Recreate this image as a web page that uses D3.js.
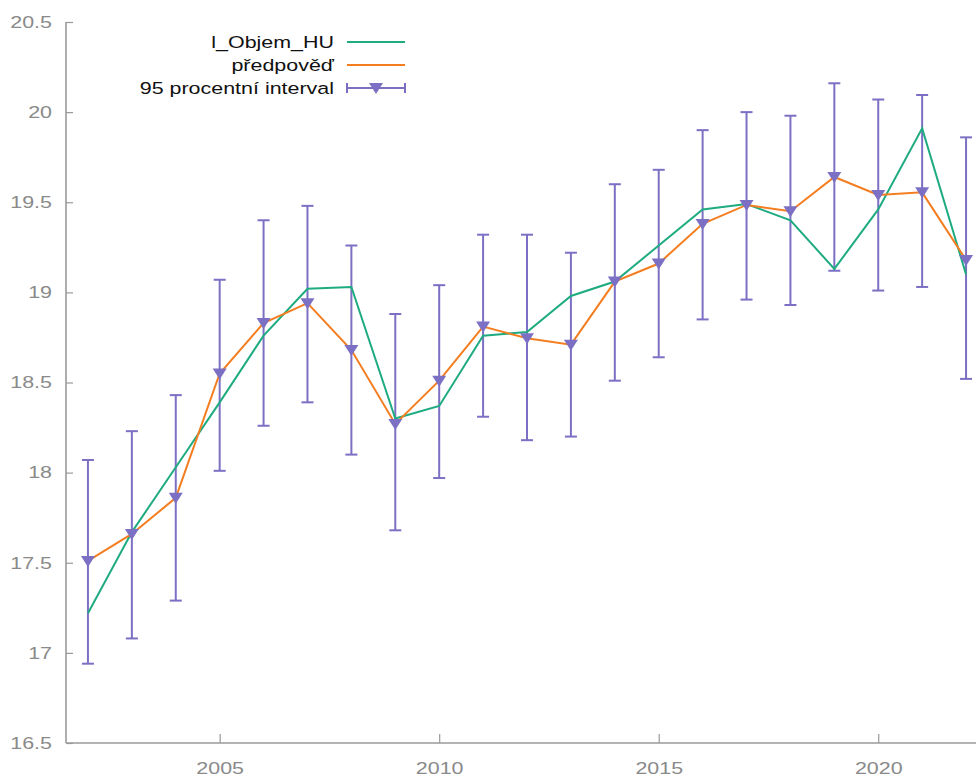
<!DOCTYPE html>
<html>
<head>
<meta charset="utf-8">
<script src="https://cdn.jsdelivr.net/npm/d3@7"></script>
<style>
  body { margin: 0; background: #fff; }
  svg { display: block; font-family: "Liberation Sans", Arial, sans-serif; }
</style>
</head>
<body>
<script>
// data
var years    = [2002, 2003, 2004, 2005, 2006, 2007, 2008, 2009, 2010, 2011, 2012,
                2013, 2014, 2015, 2016, 2017, 2018, 2019, 2020, 2021, 2022];
var actual   = [17.22, 17.67, 18.03, 18.39, 18.76, 19.02, 19.03, 18.30, 18.37, 18.76, 18.78,
                18.98, 19.06, 19.26, 19.46, 19.49, 19.40, 19.13, 19.46, 19.91, 19.10];
var forecast = [17.51, 17.66, 17.86, 18.55, 18.83, 18.94, 18.68, 18.27, 18.51, 18.81, 18.745,
                18.71, 19.06, 19.16, 19.38, 19.485, 19.45, 19.64, 19.54, 19.555, 19.18];
var lower    = [16.94, 17.08, 17.29, 18.01, 18.26, 18.39, 18.10, 17.68, 17.97, 18.31, 18.18,
                18.20, 18.51, 18.64, 18.85, 18.96, 18.93, 19.12, 19.01, 19.03, 18.52];
var upper    = [18.07, 18.23, 18.43, 19.07, 19.40, 19.48, 19.26, 18.88, 19.04, 19.32, 19.32,
                19.22, 19.60, 19.68, 19.90, 20.00, 19.98, 20.16, 20.07, 20.095, 19.86];
var xTicks   = [2005, 2010, 2015, 2020];
var yTicks   = [16.5, 17, 17.5, 18, 18.5, 19, 19.5, 20, 20.5];
var seriesNames = ["l_Objem_HU", "předpověď", "95 procentní interval"];

var w = 976, h = 776;
var green = "#1fab80", orange = "#f47d20", purple = "#7b70c4", axisCol = "#9a9a9a";
var stretch = "scale(1.3,1)"; // the picture's text is wider than it is tall

var x = d3.scaleLinear().domain([2001.5, 2022.5]).range([66, 988]);
var y = d3.scaleLinear().domain([16.5, 20.5]).range([743, 22]);

var svg = d3.select("body").append("svg")
    .attr("width", w)
    .attr("height", h);

// axes
var yAxis = svg.append("g")
    .attr("transform", "translate(66,0)")
    .call(d3.axisRight(y).tickValues(yTicks).tickSize(7).tickFormat(d3.format("")));
var xAxis = svg.append("g")
    .attr("transform", "translate(0,743)")
    .call(d3.axisTop(x).tickValues(xTicks).tickSize(9).tickFormat(d3.format("d")));
[xAxis, yAxis].forEach(function(g) {
    g.select(".domain").attr("stroke", axisCol).attr("stroke-width", 1.6);
    g.selectAll(".tick line").attr("stroke", axisCol).attr("stroke-width", 1.2);
    g.selectAll(".tick text").attr("fill", "#8a8a8a").attr("font-size", 16.5);
});
yAxis.select(".domain").attr("d", "M0,22V743");
yAxis.selectAll(".tick text")
    .attr("x", 0).attr("text-anchor", "end")
    .attr("transform", "translate(-14,0) " + stretch);
xAxis.select(".domain").attr("d", "M66,0H" + w);
xAxis.selectAll(".tick text")
    .attr("y", 0).attr("dy", "0.35em")
    .attr("transform", "translate(0,25) " + stretch);

var rows = years.map(function(d, i) {
    return {year: d, a: actual[i], f: forecast[i], lo: lower[i], hi: upper[i]};
});

// error bars
var bars = svg.append("g").attr("stroke", purple).attr("stroke-width", 2);
bars.selectAll("line.v").data(rows).enter().append("line")
    .attr("x1", function(d){return x(d.year);})
    .attr("x2", function(d){return x(d.year);})
    .attr("y1", function(d){return y(d.lo);})
    .attr("y2", function(d){return y(d.hi);});
["lo", "hi"].forEach(function(k) {
    bars.selectAll("line." + k).data(rows).enter().append("line")
        .attr("class", k)
        .attr("x1", function(d){return x(d.year) - 6;})
        .attr("x2", function(d){return x(d.year) + 6;})
        .attr("y1", function(d){return y(d[k]);})
        .attr("y2", function(d){return y(d[k]);});
});

var line = function(key) {
    return d3.line().x(function(d){return x(d.year);}).y(function(d){return y(d[key]);});
};
svg.append("path").datum(rows)
    .attr("fill", "none").attr("stroke", green).attr("stroke-width", 2)
    .attr("d", line("a"));
svg.append("path").datum(rows)
    .attr("fill", "none").attr("stroke", orange).attr("stroke-width", 2)
    .attr("d", line("f"));

var tri = "M-7,-5L7,-5L0,6Z";
svg.append("g").selectAll("path").data(rows).enter().append("path")
    .attr("transform", function(d){return "translate(" + x(d.year) + "," + y(d.f) + ")";})
    .attr("d", tri)
    .attr("fill", purple);

// legend
var legY = [42, 65, 88];
var leg = svg.append("g");
seriesNames.forEach(function(name, i) {
    leg.append("text")
        .attr("transform", "translate(334," + legY[i] + ") " + stretch)
        .attr("dy", "0.35em")
        .attr("text-anchor", "end").attr("font-size", 16.5).attr("fill", "#111")
        .text(name);
});
leg.append("line").attr("x1", 347).attr("x2", 405).attr("y1", legY[0]).attr("y2", legY[0])
    .attr("stroke", green).attr("stroke-width", 2);
leg.append("line").attr("x1", 347).attr("x2", 405).attr("y1", legY[1]).attr("y2", legY[1])
    .attr("stroke", orange).attr("stroke-width", 2);
var g3 = leg.append("g").attr("stroke", purple).attr("stroke-width", 2);
g3.append("line").attr("x1", 347).attr("x2", 405).attr("y1", legY[2]).attr("y2", legY[2]);
g3.append("line").attr("x1", 347).attr("x2", 347).attr("y1", legY[2] - 5).attr("y2", legY[2] + 5);
g3.append("line").attr("x1", 405).attr("x2", 405).attr("y1", legY[2] - 5).attr("y2", legY[2] + 5);
leg.append("path").attr("transform", "translate(376," + legY[2] + ")")
    .attr("d", tri).attr("fill", purple);
</script>
</body>
</html>
